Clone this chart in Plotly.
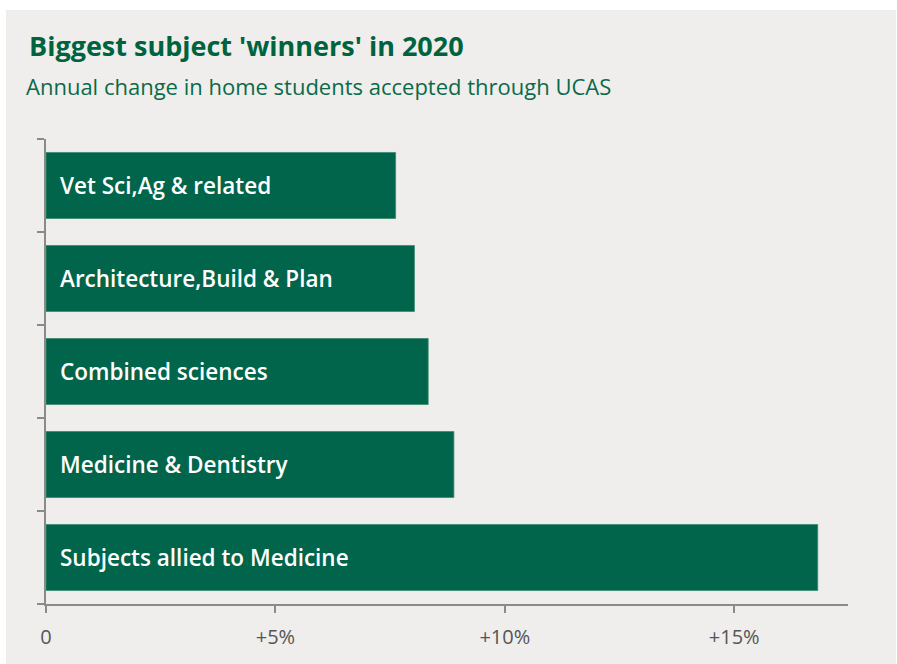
import plotly.graph_objects as go

# Subject groups (top to bottom) and their annual change in accepted home students, %
subjects = [
    "Vet Sci,Ag & related",
    "Architecture,Build & Plan",
    "Combined sciences",
    "Medicine & Dentistry",
    "Subjects allied to Medicine",
]
change_pct = [7.62, 8.03, 8.33, 8.89, 16.82]

tick_vals = [0, 5, 10, 15]
tick_text = ["0", "+5%", "+10%", "+15%"]

title_text = "Biggest subject 'winners' in 2020"
subtitle_text = "Annual change in home students accepted through UCAS"

GREEN = "#00654A"
PANEL = "#EFEEEC"
AXIS_GREY = "#8A8A8A"
W, H = 897, 664

fig = go.Figure()
fig.add_trace(
    go.Bar(
        x=change_pct,
        y=subjects,
        orientation="h",
        marker=dict(color=GREEN, line=dict(color="#3C8A6E", width=0.8)),
        hoverinfo="skip",
    )
)

# Subject names written inside the bars
for name in subjects:
    fig.add_annotation(
        x=0, y=name, xref="x", yref="y",
        text=name, showarrow=False,
        xanchor="left", yanchor="middle", xshift=12,
        font=dict(family="Open Sans", size=22.5, color="white", weight=600),
    )

fig.add_annotation(
    x=27 / W, y=1 - 46 / H, xref="paper", yref="paper",
    text=title_text, showarrow=False, xanchor="left", yanchor="middle",
    font=dict(family="Open Sans", size=27, color="#00633F", weight=700),
)
fig.add_annotation(
    x=24 / W, y=1 - 86 / H, xref="paper", yref="paper",
    text=subtitle_text, showarrow=False, xanchor="left", yanchor="middle",
    font=dict(family="Open Sans", size=22, color="#0A6A4A"),
)

# Light panel behind the chart
fig.add_shape(
    type="rect", xref="paper", yref="paper",
    x0=6 / W, x1=896 / W, y0=0, y1=1 - 10 / H,
    fillcolor=PANEL, line=dict(width=0), layer="below",
)

fig.update_layout(
    width=W, height=H,
    margin=dict(l=0, r=0, t=0, b=0),
    paper_bgcolor="white",
    plot_bgcolor="rgba(0,0,0,0)",
    bargap=0.29,
    showlegend=False,
)
fig.update_xaxes(
    domain=[46 / W, 848 / W],
    range=[0, 17.48],
    tickvals=tick_vals, ticktext=tick_text,
    ticks="outside", ticklen=7, tickwidth=1.5, tickcolor=AXIS_GREY,
    ticklabelstandoff=7,
    showline=True, linecolor=AXIS_GREY, linewidth=1.5,
    showgrid=False, zeroline=False,
    tickfont=dict(family="Open Sans", size=20, color="#555555"),
    automargin=False, fixedrange=True,
)
fig.update_yaxes(
    domain=[1 - 604 / H, 1 - 139 / H],
    categoryorder="array", categoryarray=subjects[::-1],
    showticklabels=False,
    ticks="outside", tickson="boundaries", ticklen=7, tickwidth=1.5, tickcolor=AXIS_GREY,
    showline=True, linecolor=AXIS_GREY, linewidth=1.5,
    showgrid=False, zeroline=False,
    automargin=False, fixedrange=True,
)

fig.write_html("out.html", config={"displayModeBar": False})
